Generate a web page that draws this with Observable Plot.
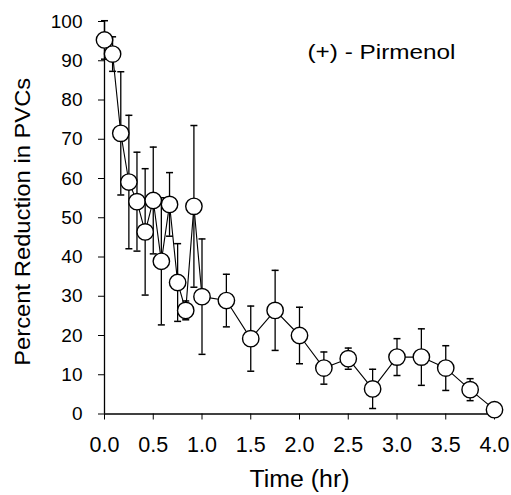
<!DOCTYPE html>
<html>
<head>
<meta charset="utf-8">
<script src="https://cdn.jsdelivr.net/npm/d3@7"></script>
<script src="https://cdn.jsdelivr.net/npm/@observablehq/plot@0.6"></script>
<style>
  html, body { margin: 0; padding: 0; background: white; }
</style>
</head>
<body>
<div id="chart"></div>
<script>
// Time points (hr)
const time = [0, 0.083, 0.167, 0.25, 0.333, 0.417, 0.5, 0.583, 0.667, 0.75, 0.833, 0.917, 1.0,
              1.25, 1.5, 1.75, 2.0, 2.25, 2.5, 2.75, 3.0, 3.25, 3.5, 3.75, 4.0];
// Mean percent reduction in PVCs
const meanReduction = [95.3, 91.7, 71.5, 59.1, 54.1, 46.4, 54.4, 38.9, 53.4, 33.5, 26.4, 52.9, 29.9,
                       28.9, 19.2, 26.4, 20.0, 11.7, 14.1, 6.4, 14.5, 14.5, 11.7, 6.2, 1.1];
// Error (± SEM)
const errorSem = [4.9, 4.4, 15.7, 17.0, 12.6, 16.1, 13.6, 16.2, 8.1, 9.9, 2.4, 20.6, 14.7,
                  6.7, 8.3, 10.2, 7.2, 4.1, 2.7, 5.0, 4.7, 7.2, 5.7, 2.8, 0];
const xTicks = [0, 0.5, 1.0, 1.5, 2.0, 2.5, 3.0, 3.5, 4.0];
const yTicks = [0, 10, 20, 30, 40, 50, 60, 70, 80, 90, 100];
const seriesLabel = "(+) - Pirmenol";
const xLabel = "Time (hr)";
const yLabel = "Percent Reduction in PVCs";

const data = time.map((t, i) => ({t, m: meanReduction[i], s: errorSem[i]}));
const withErr = data.filter(d => d.s > 0);

// horizontal cap symbol for error bars
const capSymbol = {
  draw(context, size) {
    const w = Math.sqrt(size / Math.PI);
    context.moveTo(-w, 0);
    context.lineTo(w, 0);
  }
};

const font = "'Liberation Sans', Arial, Helvetica, sans-serif";

const chart = Plot.plot({
  width: 511,
  height: 495,
  marginLeft: 104,
  marginRight: 17,
  marginTop: 21,
  marginBottom: 81.5,
  x: {domain: [0, 4]},
  y: {domain: [0, 100]},
  style: {fontFamily: font, color: "black", background: "white", overflow: "visible"},
  marks: [
    Plot.axisY({ticks: yTicks, tickSize: 6, tickPadding: 16, fontSize: 19, label: null, tickFormat: d => String(d)}),
    Plot.axisX({ticks: xTicks, tickSize: 6, tickPadding: 17, fontSize: 21.5, label: null, tickFormat: d => d.toFixed(1)}),
    Plot.ruleX([0], {stroke: "black", strokeWidth: 1.3}),
    Plot.ruleY([0], {stroke: "black", strokeWidth: 1.3}),
    Plot.ruleX(withErr, {x: "t", y1: d => d.m - d.s, y2: d => d.m + d.s, stroke: "black", strokeWidth: 1.3}),
    Plot.dot(withErr, {x: "t", y: d => d.m + d.s, symbol: capSymbol, r: 3.5, stroke: "black", strokeWidth: 1.5, fill: "none"}),
    Plot.dot(withErr, {x: "t", y: d => d.m - d.s, symbol: capSymbol, r: 3.5, stroke: "black", strokeWidth: 1.5, fill: "none"}),
    Plot.line(data, {x: "t", y: "m", stroke: "black", strokeWidth: 1.1}),
    Plot.dot(data, {x: "t", y: "m", r: 8.2, fill: "white", stroke: "black", strokeWidth: 1.4}),
    Plot.text([seriesLabel], {frameAnchor: "top-left", dx: 203, dy: 23, textAnchor: "start", fontSize: 20, fill: "black"}),
    Plot.text([xLabel], {frameAnchor: "bottom", dy: 73, textAnchor: "middle", fontSize: 23, fill: "black"}),
    Plot.text([yLabel], {frameAnchor: "left", dx: -82, dy: 4, rotate: -90, textAnchor: "middle", fontSize: 22, fill: "black"})
  ]
});
document.getElementById("chart").appendChild(chart);

// widen the label glyphs to match the reference's wider lettering
const widths = {[seriesLabel]: 148, [xLabel]: 100, [yLabel]: 288};
d3.select(chart).selectAll("text").each(function() {
  const w = widths[this.textContent];
  if (w) d3.select(this).attr("textLength", w).attr("lengthAdjust", "spacingAndGlyphs");
});
</script>
</body>
</html>
